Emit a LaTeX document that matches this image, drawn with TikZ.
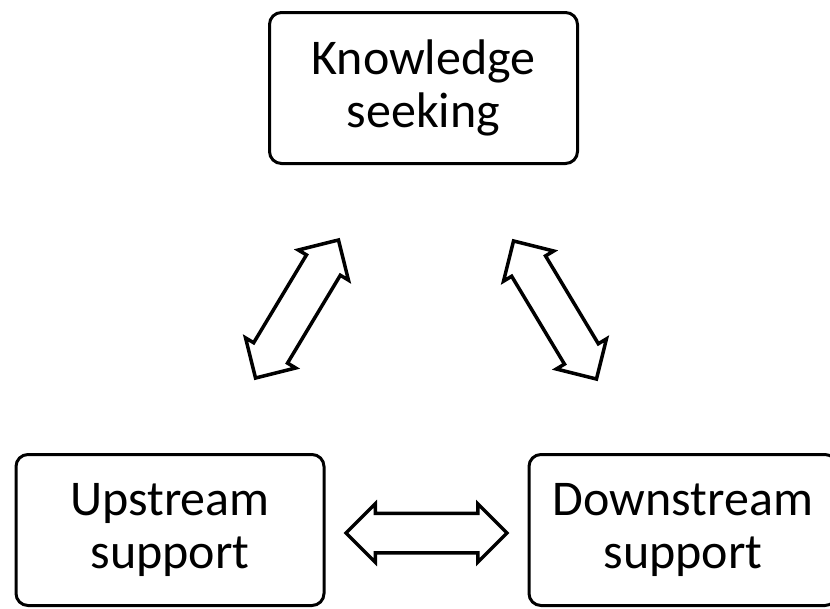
\documentclass[tikz,border=0pt]{standalone}
\usepackage{fontspec}
\setmainfont{Carlito}
\usetikzlibrary{shapes.arrows}
\tikzstyle{stage} = [rectangle, draw, rounded corners=12pt, line width=3pt, align=center, inner sep=0pt, minimum width=308pt, minimum height=151pt, font=\fontsize{50}{53}\selectfont]
\tikzstyle{link}  = [double arrow, draw, line width=3.5pt, inner xsep=0pt, inner ysep=18pt, minimum height=161pt, double arrow head extend=9.5pt, double arrow head indent=0pt]

\begin{document}
\begin{tikzpicture}[x=1pt, y=-1pt]
	\clip (0,0) rectangle (830,608);

	% place nodes
	\node [stage] (know) at (423.5,88)  {Knowledge\\seeking};
	\node [stage] (up)   at (170,530)   {Upstream\\support};
	\node [stage] (down) at (683,530)   {Downstream\\support};

	% place links
	\node [link, rotate=59]  (kuarrow) at (297,309)   {};
	\node [link, rotate=121] (kdarrow) at (555,310)   {};
	\node [link]             (udarrow) at (426.5,533) {};
\end{tikzpicture}
\end{document}
